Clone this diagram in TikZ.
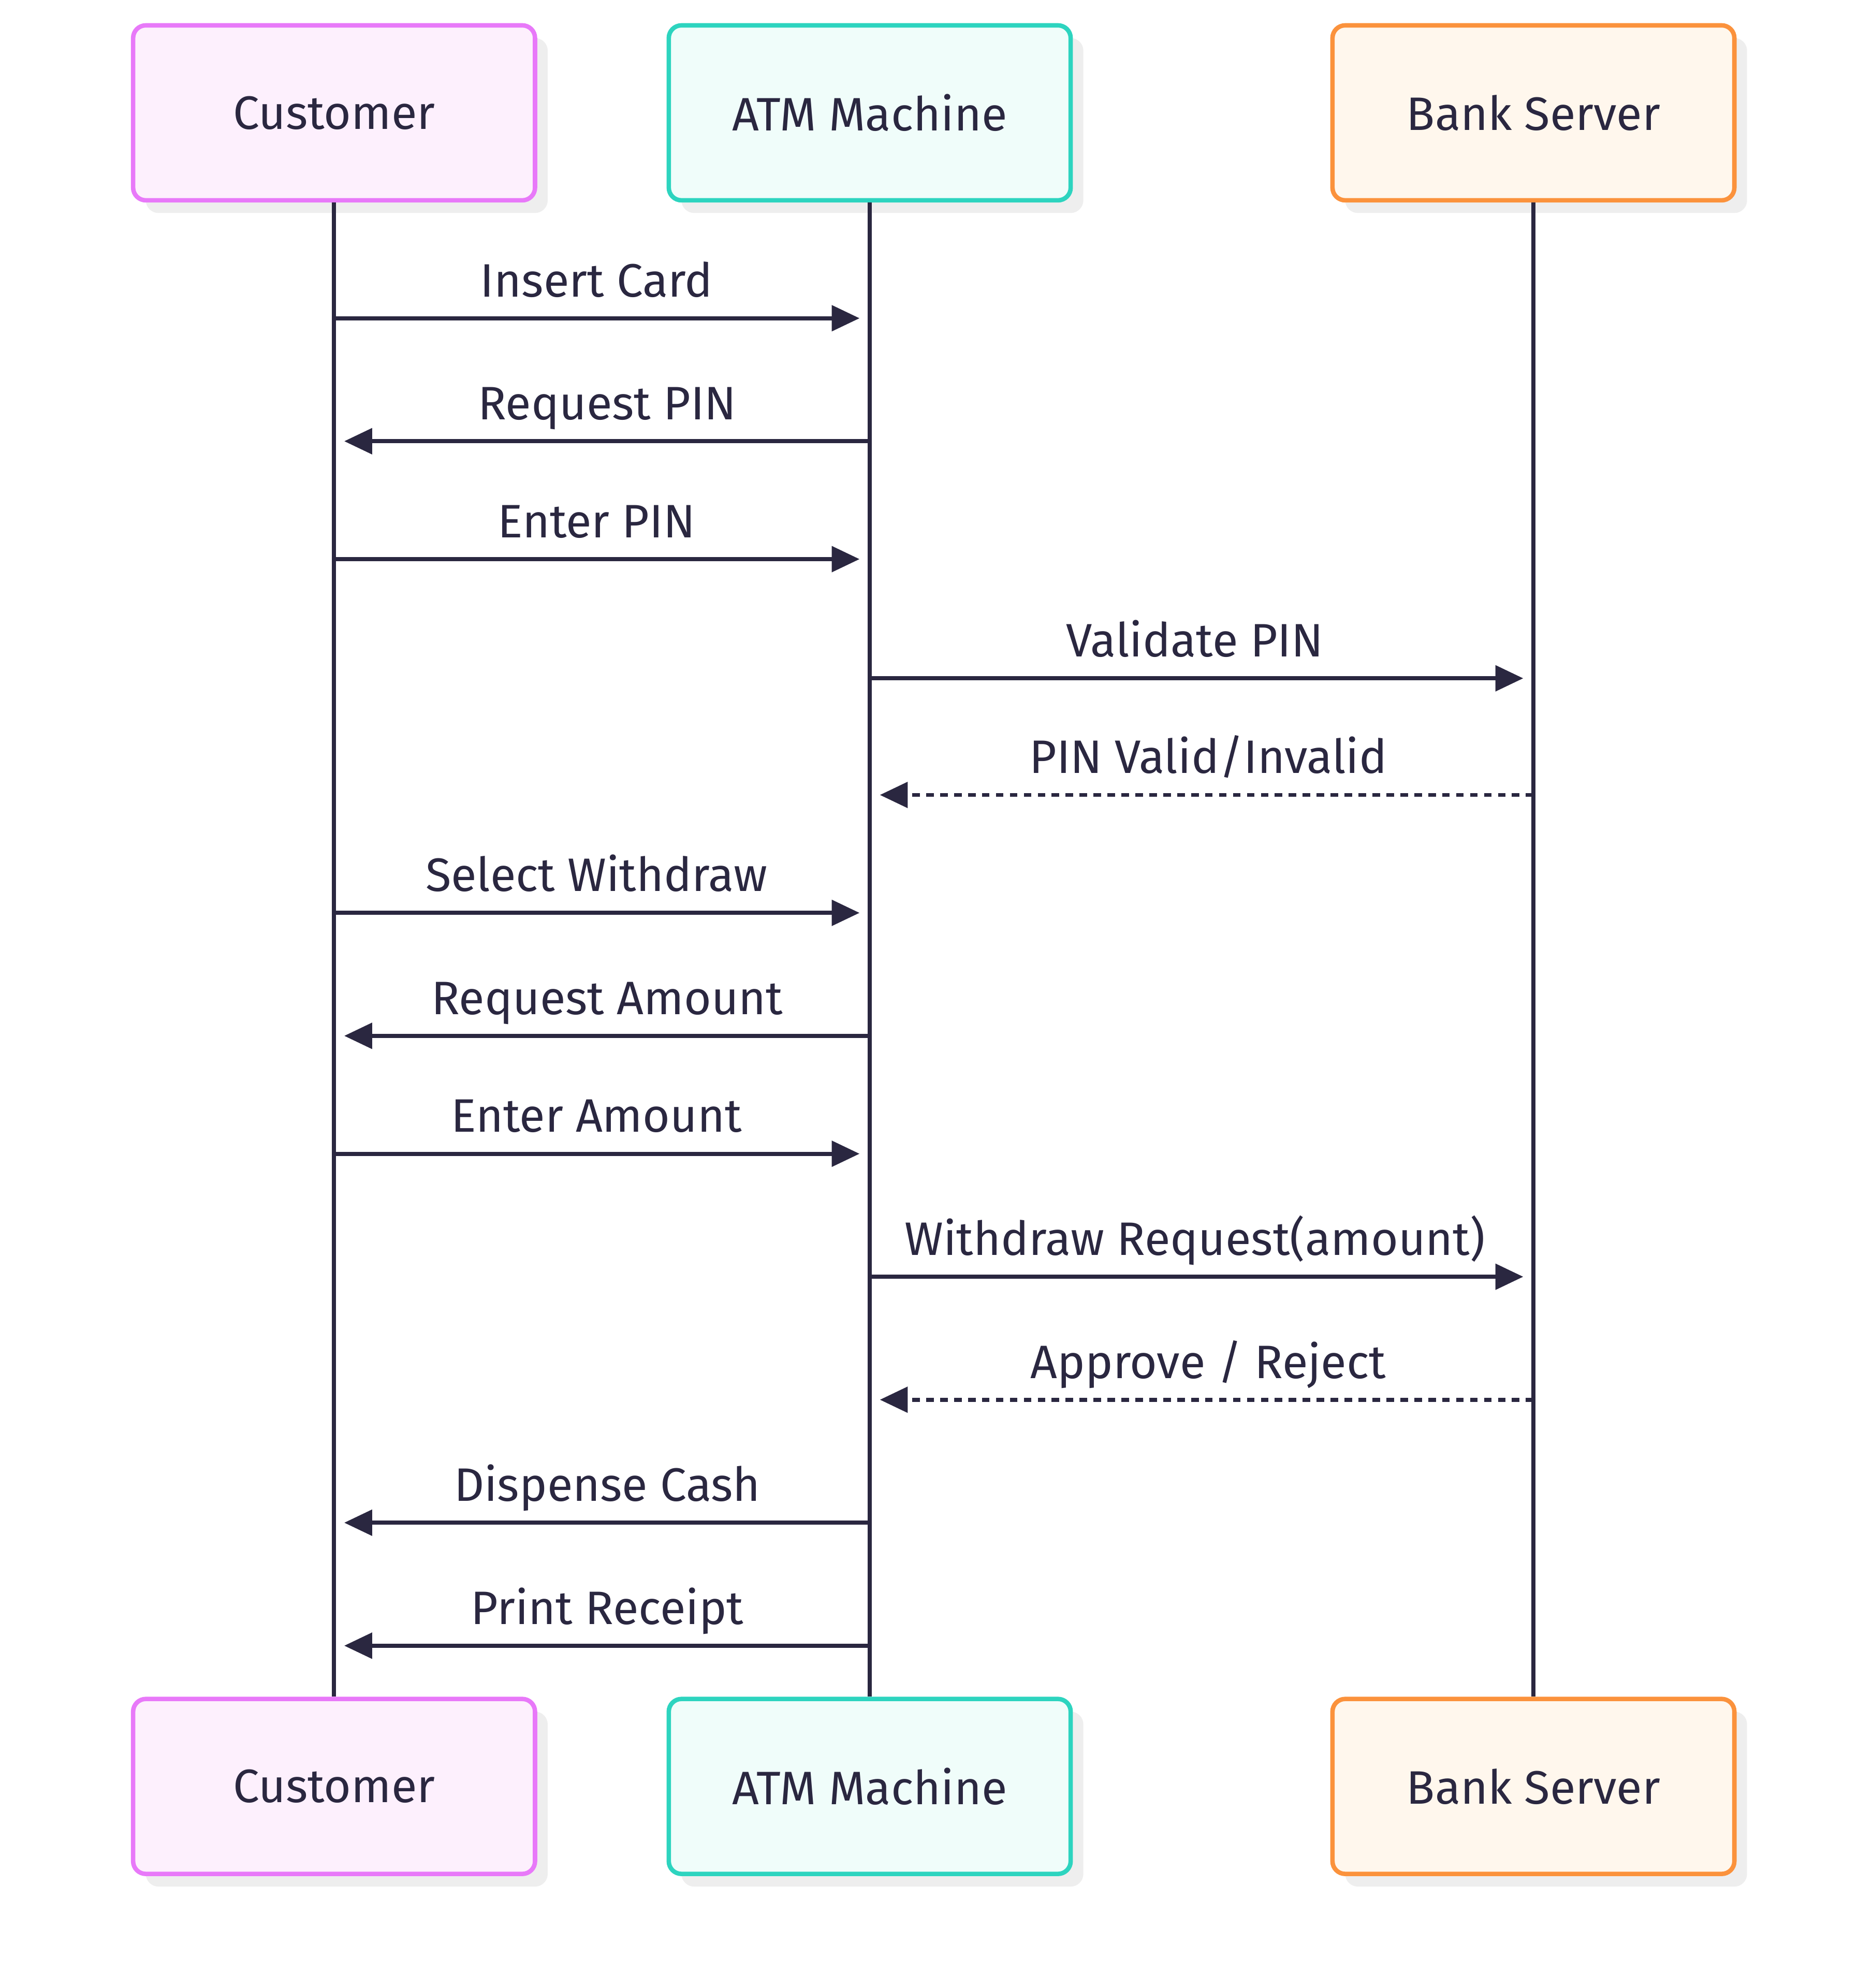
\documentclass[tikz,border=0pt]{standalone}
\usepackage{fontspec}
\setmainfont{Fira Sans}
\usepackage{tikz}
\usetikzlibrary{arrows.meta, shadows}

\definecolor{ink}{HTML}{2A2740}
\definecolor{shade}{HTML}{EEEEEE}
\definecolor{custline}{HTML}{E879F9}
\definecolor{custfill}{HTML}{FDF0FD}
\definecolor{atmline}{HTML}{2DD4BF}
\definecolor{atmfill}{HTML}{F0FDFA}
\definecolor{bankline}{HTML}{FB923C}
\definecolor{bankfill}{HTML}{FFF7ED}

\tikzset{
  actor/.style={draw, rounded corners=10pt, line width=3.5pt, minimum width=317pt,
    minimum height=138pt, text=ink, font=\fontsize{37}{44}\selectfont,
    drop shadow={shadow xshift=10pt, shadow yshift=-10pt, fill=shade, opacity=1}},
  life/.style={draw=ink, line width=3.2pt},
  msg/.style={draw=ink, line width=3.2pt, shorten >=8pt,
    -{Triangle[length=22pt, width=20pt]}},
  reply/.style={msg, dash pattern=on 6pt off 5pt},
  lbl/.style={pos=0.49, anchor=base, yshift=17pt, text=ink, font=\fontsize{37}{44}\selectfont}
}

\begin{document}
\begin{tikzpicture}[x=1pt, y=-1pt]
\useasboundingbox (0,0) rectangle (1477,1568);

% participants
\node[actor, draw=custline, fill=custfill] (cT) at (263.5,89) {Customer};
\node[actor, draw=atmline, fill=atmfill] (aT) at (686,89) {ATM Machine};
\node[actor, draw=bankline, fill=bankfill] (bT) at (1209.5,89) {Bank Server};
\node[actor, draw=custline, fill=custfill] (cB) at (263.5,1409) {Customer};
\node[actor, draw=atmline, fill=atmfill] (aB) at (686,1409) {ATM Machine};
\node[actor, draw=bankline, fill=bankfill] (bB) at (1209.5,1409) {Bank Server};

% lifelines
\draw[life] (cT.south) -- (cB.north);
\draw[life] (aT.south) -- (aB.north);
\draw[life] (bT.south) -- (bB.north);

% messages
\draw[msg] (cT |- 0,251) -- (aT |- 0,251) node[lbl] {Insert Card};
\draw[msg] (aT |- 0,348) -- (cT |- 0,348) node[lbl] {Request PIN};
\draw[msg] (cT |- 0,441) -- (aT |- 0,441) node[lbl] {Enter PIN};
\draw[msg] (aT |- 0,535) -- (bT |- 0,535) node[lbl] {Validate PIN};
\draw[reply] (bT |- 0,627) -- (aT |- 0,627) node[lbl] {PIN Valid/Invalid};
\draw[msg] (cT |- 0,720) -- (aT |- 0,720) node[lbl] {Select Withdraw};
\draw[msg] (aT |- 0,817) -- (cT |- 0,817) node[lbl] {Request Amount};
\draw[msg] (cT |- 0,910) -- (aT |- 0,910) node[lbl] {Enter Amount};
\draw[msg] (aT |- 0,1007) -- (bT |- 0,1007) node[lbl] {Withdraw Request(amount)};
\draw[reply] (bT |- 0,1104) -- (aT |- 0,1104) node[lbl] {Approve / Reject};
\draw[msg] (aT |- 0,1201) -- (cT |- 0,1201) node[lbl] {Dispense Cash};
\draw[msg] (aT |- 0,1298) -- (cT |- 0,1298) node[lbl] {Print Receipt};
\end{tikzpicture}
\end{document}
